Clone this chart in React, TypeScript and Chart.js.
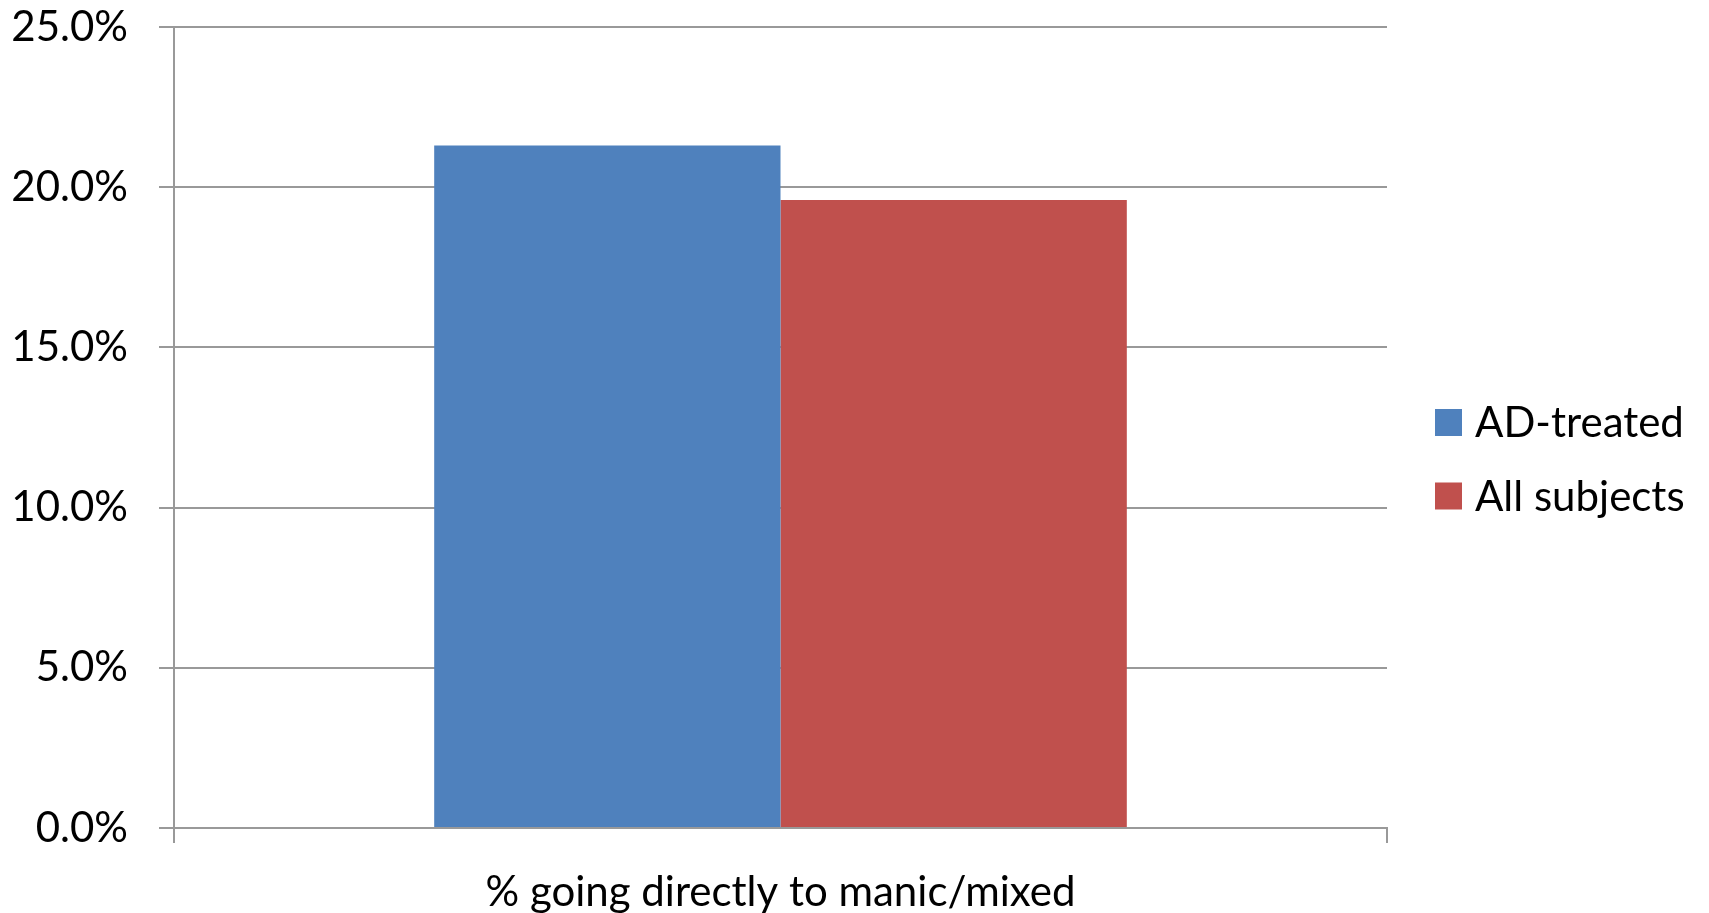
import React, { useEffect, useRef } from 'react';
import { Chart, registerables } from 'chart.js';

Chart.register(...registerables);

// data
const categories = ['% going directly to manic/mixed'];
const seriesNames = ['AD-treated', 'All subjects'];
const adTreated = [21.3];
const allSubjects = [19.6];
const yTickValues = [0, 5, 10, 15, 20, 25];
const seriesColors = ['#4F81BD', '#C0504D'];

const FONT = 'Lato, "Open Sans", sans-serif';
const FONT_SIZE = 42;
const LINE = '#999999';

// Excel-like legend on the right: square swatch + label, vertically centred
const sideLegend = {
  id: 'sideLegend',
  afterDraw(chart: any) {
    const { ctx, chartArea } = chart;
    const x = chartArea.right + 48;
    const rowGap = 73.5;
    const top = 422.5;
    ctx.save();
    ctx.font = `${FONT_SIZE}px ${FONT}`;
    ctx.textBaseline = 'middle';
    ctx.textAlign = 'left';
    chart.data.datasets.forEach((ds: any, i: number) => {
      const cy = top + i * rowGap;
      ctx.fillStyle = ds.backgroundColor;
      ctx.fillRect(x, cy - 13.5, 27, 27);
      ctx.fillStyle = '#000';
      ctx.fillText(ds.label, x + 40, cy + 1);
    });
    ctx.restore();
  },
};

const BarChart: React.FC = () => {
  const ref = useRef<HTMLCanvasElement>(null);

  useEffect(() => {
    if (!ref.current) return;

    const chart = new Chart(ref.current, {
      type: 'bar',
      data: {
        labels: categories,
        datasets: [
          { label: seriesNames[0], data: adTreated, backgroundColor: seriesColors[0] },
          { label: seriesNames[1], data: allSubjects, backgroundColor: seriesColors[1] },
        ],
      },
      options: {
        responsive: false,
        animation: false,
        layout: { padding: { top: 27, right: 322, left: 0, bottom: 0 } },
        datasets: {
          bar: { categoryPercentage: 0.571, barPercentage: 1, borderWidth: 0 },
        },
        plugins: {
          legend: { display: false },
          tooltip: { enabled: false },
        },
        scales: {
          x: {
            grid: { drawOnChartArea: false, color: LINE, lineWidth: 2, tickLength: 15 },
            border: { display: true, color: LINE, width: 2 },
            ticks: {
              color: '#000',
              padding: 24,
              font: { family: FONT, size: FONT_SIZE },
            },
            afterFit: (scale: any) => {
              scale.height = 85;
            },
          },
          y: {
            min: 0,
            max: 25,
            grid: { color: LINE, lineWidth: 2, tickLength: 15 },
            border: { display: true, color: LINE, width: 2 },
            ticks: {
              color: '#000',
              padding: 31,
              font: { family: FONT, size: FONT_SIZE },
              callback: (v: any) => Number(v).toFixed(1) + '%',
            },
            afterBuildTicks: (scale: any) => {
              scale.ticks = yTickValues.map((v) => ({ value: v }));
            },
            afterFit: (scale: any) => {
              scale.width = 174;
              // tick padding should only push labels sideways, not shrink the plot
              scale.paddingTop = 0;
              scale.paddingBottom = 0;
            },
          },
        },
      },
      plugins: [sideLegend],
    });

    return () => {
      chart.destroy();
    };
  }, []);

  return <canvas ref={ref} width={1709} height={913}></canvas>;
};

export default function App() {
  return (
    <div style={{ position: 'fixed', left: 0, top: 0, width: 1709, height: 913, background: '#fff' }}>
      <BarChart />
    </div>
  );
}
